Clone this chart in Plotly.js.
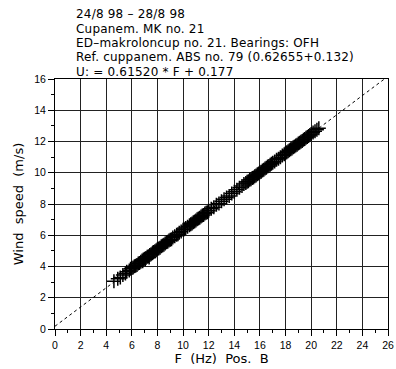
<!DOCTYPE html>
<html>
<head>
<meta charset="utf-8">
<script src="https://cdn.plot.ly/plotly-3.0.1.min.js"></script>
<style>html,body{margin:0;padding:0;background:#fff;}#chart{width:396px;height:369px;}
#chart .annotation-text{letter-spacing:0.2px;}</style>
</head>
<body>
<div id="chart"></div>
<script>
var titleLines = [
  "24/8 98 \u2013 28/8 98",
  "Cupanem. MK no. 21",
  "ED\u2013makroloncup no. 21. Bearings: OFH",
  "Ref. cuppanem. ABS no. 79 (0.62655+0.132)",
  "U: = 0.61520 * F + 0.177"
];
var xTitle = "F\u00a0\u00a0(Hz)\u00a0\u00a0Pos.\u00a0\u00a0B";
var yTitle = "Wind\u00a0\u00a0speed\u00a0\u00a0(m/s)";

var fitSlope = 0.61520;
var fitIntercept = 0.177;
var fitRangeX = [0, 26];

var freqF = [4.6,4.9,5.1,5.3,5.5,5.6,5.8,5.9,6.0,6.1,6.2,6.3,6.4,6.5,6.6,6.7,6.8,6.85,6.9,7.0,7.05,7.1,7.2,7.3,7.35,7.4,7.5,7.6,7.65,7.7,7.8,7.9,8.0,8.1,8.2,8.3,8.4,8.5,8.6,8.7,8.8,8.9,9.0,9.1,9.2,9.35,9.5,9.6,9.7,9.85,10.0,10.1,10.2,10.35,10.5,10.6,10.7,10.8,10.9,11.0,11.1,11.2,11.3,11.4,11.5,11.6,11.7,11.8,11.9,12.0,12.2,12.4,12.6,12.8,13.0,13.2,13.4,13.6,13.8,14.0,14.2,14.4,14.6,14.75,14.9,15.0,15.1,15.2,15.3,15.4,15.5,15.6,15.7,15.8,15.9,16.0,16.1,16.2,16.3,16.4,16.5,16.6,16.7,16.8,16.9,17.0,17.15,17.3,17.45,17.6,17.75,17.9,18.0,18.1,18.2,18.3,18.4,18.5,18.6,18.7,18.8,18.9,19.0,19.1,19.2,19.3,19.4,19.5,19.6,19.7,19.8,19.9,20.0,20.15,20.3,20.45,20.6];
var windU = [3.05,3.22,3.30,3.45,3.55,3.66,3.74,3.85,3.90,3.93,4.02,4.05,4.10,4.20,4.22,4.30,4.38,4.33,4.45,4.50,4.46,4.55,4.62,4.66,4.58,4.74,4.79,4.85,4.90,4.93,4.98,5.04,5.12,5.15,5.20,5.30,5.34,5.40,5.47,5.55,5.58,5.66,5.72,5.75,5.85,5.93,6.04,6.07,6.16,6.24,6.35,6.38,6.47,6.55,6.64,6.70,6.75,6.84,6.88,6.95,7.02,7.08,7.12,7.20,7.27,7.30,7.39,7.44,7.48,7.57,7.70,7.80,7.95,8.04,8.18,8.30,8.42,8.52,8.68,8.78,8.92,9.04,9.15,9.28,9.34,9.42,9.46,9.55,9.58,9.66,9.70,9.78,9.82,9.90,9.96,10.03,10.07,10.15,10.20,10.27,10.32,10.40,10.44,10.51,10.58,10.64,10.72,10.83,10.90,11.00,11.10,11.18,11.26,11.31,11.37,11.44,11.50,11.55,11.63,11.68,11.74,11.80,11.87,11.92,11.99,12.04,12.11,12.16,12.24,12.29,12.36,12.41,12.48,12.57,12.66,12.76,12.85];

var xRange = [0, 26];
var yRange = [0, 16];
var majorStep = 2;
var minorStep = 1;

var fitY = fitRangeX.map(function(x){ return fitSlope * x + fitIntercept; });

var traces = [
  {x: fitRangeX, y: fitY, mode: 'lines', line: {color: '#000', width: 1, dash: '3px,3px'}, hoverinfo: 'skip'},
  {x: freqF, y: windU, mode: 'markers', marker: {symbol: 'cross-thin-open', size: 10, color: '#000', line: {color: '#000', width: 1.5}}}
];

var fontTitle = {family: 'DejaVu Sans, sans-serif', size: 12, color: '#000'};
var annotations = [];
var titleTopPx = 14, titleStepPx = 14.5;
var plotTop = 79, plotBottom = 329, plotH = plotBottom - plotTop;
for (var i = 0; i < titleLines.length; i++) {
  var ypx = titleTopPx + i * titleStepPx;
  annotations.push({
    text: titleLines[i], xref: 'paper', yref: 'paper',
    x: (75 - 55) / 333, y: (plotBottom - ypx) / plotH,
    xanchor: 'left', yanchor: 'middle', align: 'left', showarrow: false, font: fontTitle, borderpad: 0
  });
}

function axisBase(range) {
  return {
    range: range, tickmode: 'linear', tick0: 0, dtick: majorStep,
    showgrid: true, gridcolor: '#222', gridwidth: 1,
    showline: true, linecolor: '#000', linewidth: 1, mirror: true,
    ticks: 'outside', ticklen: 6, tickwidth: 1, tickcolor: '#000',
    zeroline: false, fixedrange: true,
    tickfont: {family: 'Liberation Sans, Arial, sans-serif', size: 10.5, color: '#000'},
    minor: {tick0: 0, dtick: minorStep, ticks: 'outside', ticklen: 3, tickcolor: '#000', tickwidth: 1, showgrid: false}
  };
}

var xa = axisBase(xRange);
xa.title = {text: xTitle, font: {family: 'DejaVu Sans, sans-serif', size: 13, color: '#000'}, standoff: 4};
var ya = axisBase(yRange);
ya.title = {text: yTitle, font: {family: 'DejaVu Sans, sans-serif', size: 13, color: '#000'}, standoff: 7};

var layout = {
  width: 396, height: 369,
  margin: {l: 55, r: 8, t: 79, b: 40},
  paper_bgcolor: '#fff', plot_bgcolor: '#fff',
  showlegend: false,
  xaxis: xa, yaxis: ya,
  annotations: annotations
};

Plotly.newPlot('chart', traces, layout, {staticPlot: true, displayModeBar: false});
</script>
</body>
</html>
